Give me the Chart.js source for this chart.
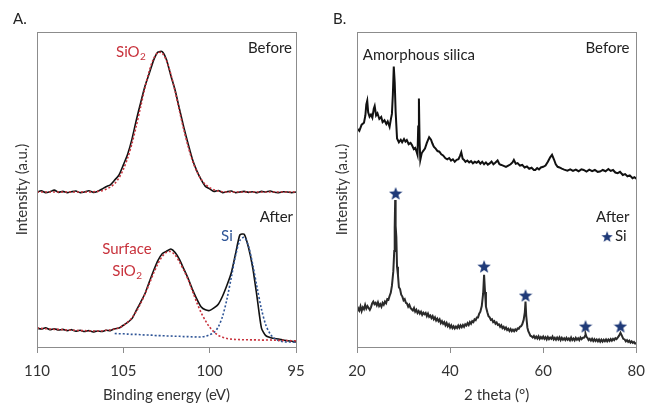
<!DOCTYPE html>
<html>
<head>
<meta charset="utf-8">
<script src="https://cdn.jsdelivr.net/npm/chart.js@4"></script>
<style>
  body { margin: 0; background: #ffffff; }
  #wrap { position: relative; width: 654px; height: 404px; }
  canvas { position: absolute; top: 0; }
  #chartA { left: 0; }
  #chartB { left: 320px; }
</style>
</head>
<body>
<div id="wrap">
  <canvas id="chartA" width="320" height="404"></canvas>
  <canvas id="chartB" width="334" height="404"></canvas>
</div>
<script>
// XPS Si 2p (panel A) - binding energy, eV
const energies = [
  110, 109.75, 109.5, 109.25, 109, 108.75, 108.5, 108.25, 108, 107.75,
  107.5, 107.25, 107, 106.75, 106.5, 106.25, 106, 105.75, 105.5, 105.25,
  105, 104.75, 104.5, 104.25, 104, 103.75, 103.5, 103.25, 103, 102.75,
  102.5, 102.25, 102, 101.75, 101.5, 101.25, 101, 100.75, 100.5, 100.25,
  100, 99.75, 99.5, 99.25, 99, 98.75, 98.5, 98.25, 98, 97.75,
  97.5, 97.25, 97, 96.75, 96.5, 96.25, 96, 95.75, 95.5, 95.25,
  95
];
const beforeMeasured = [
  49.2, 49.6, 49.0, 49.3, 49.8, 49.1, 49.4, 49.0, 49.3, 49.5,
  49.0, 49.2, 49.6, 49.1, 49.4, 50.1, 50.9, 51.5, 53.0, 54.6,
  57.8, 61.2, 66.0, 72.0, 77.5, 82.8, 86.8, 91.0, 93.6, 93.8,
  91.2, 86.2, 81.5, 75.6, 69.8, 64.5, 59.6, 56.0, 53.2, 51.0,
  50.2, 49.4, 49.7, 49.0, 49.3, 49.5, 49.0, 49.2, 49.4, 49.1,
  49.3, 49.0, 49.4, 49.2, 49.5, 49.1, 49.0, 49.3, 49.2, 49.0,
  49.2
];
const beforeFit = [
  49.2, 49.2, 49.2, 49.2, 49.2, 49.2, 49.2, 49.2, 49.2, 49.2,
  49.2, 49.2, 49.2, 49.3, 49.4, 49.6, 50.1, 50.8, 51.9, 53.7,
  56.4, 60.0, 64.6, 70.2, 76.2, 82.2, 87.6, 91.5, 93.5, 93.3,
  90.9, 86.6, 81.1, 75.0, 69.0, 63.7, 59.2, 55.8, 53.3, 51.6,
  50.6, 49.9, 49.5, 49.3, 49.2, 49.2, 49.2, 49.2, 49.2, 49.2,
  49.2, 49.2, 49.2, 49.2, 49.2, 49.2, 49.2, 49.2, 49.2, 49.2,
  49.2
];
const afterMeasured = [
  6.0, 5.7, 6.1, 5.5, 5.8, 5.4, 5.6, 5.2, 5.5, 5.0,
  5.3, 4.9, 5.2, 4.8, 5.1, 4.9, 5.3, 5.2, 5.8, 6.0,
  6.9, 7.8, 9.0, 11.6, 14.2, 16.9, 20.6, 24.2, 27.4, 29.6,
  30.4, 31.1, 30.0, 27.8, 24.8, 21.8, 18.3, 15.3, 12.8, 11.8,
  11.6, 12.4, 13.6, 16.2, 19.6, 23.5, 29.6, 35.6, 35.8, 31.6,
  25.0, 15.6, 6.0, 3.6, 3.0, 2.7, 2.5, 2.2, 2.0, 1.8,
  1.6
];
const afterSiO2Fit = [
  6.0, 5.9, 5.8, 5.7, 5.6, 5.6, 5.5, 5.4, 5.3, 5.3,
  5.2, 5.2, 5.1, 5.1, 5.1, 5.1, 5.3, 5.4, 5.7, 6.1,
  6.8, 7.9, 9.3, 11.3, 13.8, 16.8, 20.0, 23.4, 26.4, 28.7,
  30.1, 30.3, 29.2, 27.0, 24.4, 21.5, 17.8, 14.2, 11.0, 8.4,
  6.3, 4.8, 3.7, 3.1, 2.7, 2.5, 2.4, 2.35, 2.3, 2.3,
  2.25, 2.25, 2.2, 2.2, 2.2, 2.15, 2.1, 2.1, 2.05, 2.0,
  2.0
];
const afterSiFit = [
  null, null, null, null, null, null, null, null, null, null,
  null, null, null, null, null, null, null, null, 4.3, 4.2,
  4.2, 4.1, 4.0, 4.0, 3.9, 3.8, 3.8, 3.7, 3.6, 3.6,
  3.5, 3.5, 3.4, 3.4, 3.3, 3.3, 3.2, 3.2, 3.2, 3.4,
  3.9, 4.6, 6.4, 9.8, 15.2, 22.0, 29.0, 33.8, 34.8, 32.0,
  26.0, 18.8, 12.0, 7.0, 4.2, 2.7, 2.0, 1.7, 1.6, 1.6,
  1.5
];
const energyTicks = [110, 105, 100, 95];

// XRD (panel B) - [2 theta, intensity]
const xrdBefore = [
  [20, 69.4], [20.5, 68.6], [21, 70.6], [21.5, 71.2], [21.8, 73.5], [22.0, 77.0], [22.2, 78.2], [22.4, 74.5],
  [22.7, 73.1], [23.0, 73.8], [23.3, 72.8], [23.6, 75.6], [23.8, 76.5], [24.1, 73.5], [24.4, 74.2], [24.8, 72.4],
  [25.2, 73.0], [25.5, 71.4], [25.9, 72.0], [26.3, 70.8], [26.6, 71.6], [27.0, 69.9], [27.3, 72.5], [27.5, 74.0],
  [27.7, 80.0], [27.9, 89.0], [28.1, 84.0], [28.3, 74.7], [28.6, 66.2], [29.0, 65.0], [29.4, 65.8], [29.7, 65.0],
  [30.1, 66.0], [30.4, 65.2], [30.7, 65.7], [31.1, 64.4], [31.5, 64.8], [31.8, 64.1], [32.2, 62.8], [32.5, 63.2],
  [32.8, 62.0], [33.0, 61.0], [33.15, 70.0], [33.3, 78.9], [33.45, 65.0], [33.6, 59.4], [33.9, 61.5], [34.2, 62.2],
  [34.6, 63.0], [35.0, 64.8], [35.5, 66.6], [35.9, 65.8], [36.2, 64.6], [36.5, 63.6], [36.9, 63.0], [37.3, 62.2],
  [37.7, 62.0], [38.1, 61.2], [38.5, 60.8], [39.0, 59.9], [39.4, 59.6], [39.8, 60.0], [40.2, 59.2], [40.6, 59.6],
  [41.0, 58.8], [41.4, 59.4], [41.8, 59.6], [42.1, 60.6], [42.4, 61.8], [42.7, 59.8], [43.0, 59.4], [43.3, 58.8],
  [43.7, 59.2], [44.1, 58.6], [44.5, 59.0], [44.9, 58.3], [45.3, 58.8], [45.7, 58.5], [46.1, 59.0], [46.5, 58.2],
  [46.9, 58.8], [47.3, 58.0], [47.7, 58.6], [48.1, 57.9], [48.5, 58.3], [48.9, 58.9], [49.3, 58.0], [49.7, 58.5],
  [50.2, 59.2], [50.6, 58.0], [51.0, 57.8], [51.5, 57.5], [52.0, 57.2], [52.5, 57.6], [53.0, 58.0], [53.4, 58.6],
  [53.7, 59.4], [54.1, 58.2], [54.5, 58.4], [55.0, 57.6], [55.5, 57.8], [56.0, 57.0], [56.5, 57.3], [57.0, 56.6],
  [57.5, 56.9], [58.0, 56.2], [58.3, 56.2], [58.7, 56.8], [59.1, 56.4], [59.5, 57.0], [60.0, 57.2], [60.5, 57.6],
  [61.0, 58.8], [61.5, 60.2], [61.9, 61.0], [62.3, 59.6], [62.7, 58.0], [63.1, 57.2], [63.5, 57.0], [64.0, 56.6],
  [64.5, 56.3], [65.2, 56.0], [65.8, 56.4], [66.4, 55.9], [67.0, 56.3], [67.6, 55.8], [68.2, 56.4], [68.7, 56.2],
  [69.3, 55.7], [69.9, 56.3], [70.5, 55.8], [71.1, 56.2], [71.7, 55.6], [72.2, 55.7], [72.8, 56.2], [73.4, 55.8],
  [74.0, 56.5], [74.5, 55.9], [75.0, 56.2], [75.5, 55.4], [76.0, 55.2], [76.5, 55.6], [77.1, 54.6], [77.6, 54.9],
  [78.1, 54.2], [78.6, 54.5], [79.2, 53.6], [79.6, 53.9], [80.0, 53.4]
];
const xrdAfter = [
  [20, 11.0], [20.25, 12.3], [20.5, 11.6], [20.75, 12.9], [21, 11.4], [21.25, 12.6], [21.5, 12.0], [21.75, 13.4],
  [22, 12.2], [22.25, 13.0], [22.5, 12.4], [22.75, 11.8], [23, 12.6], [23.25, 13.8], [23.5, 14.4], [23.75, 13.6],
  [24, 14.0], [24.25, 13.2], [24.5, 14.2], [24.75, 13.0], [25, 13.6], [25.25, 12.8], [25.5, 14.0], [25.75, 13.4],
  [26, 14.4], [26.25, 13.9], [26.5, 15.2], [26.75, 15.0], [27, 16.2], [27.25, 17.2], [27.5, 19.4], [27.8, 24.0],
  [28, 30.5], [28.1, 38.0], [28.2, 46.7], [28.3, 38.5], [28.45, 35.0], [28.6, 25.5], [28.8, 22.8], [29, 19.0],
  [29.25, 18.4], [29.5, 16.6], [29.75, 16.0], [30, 14.8], [30.25, 15.2], [30.5, 14.0], [30.75, 13.8], [31, 12.8],
  [31.25, 13.4], [31.5, 12.4], [31.75, 12.0], [32, 11.6], [32.25, 12.4], [32.5, 11.2], [32.75, 11.8], [33, 10.8],
  [33.25, 11.4], [33.5, 10.6], [33.75, 11.2], [34, 10.2], [34.25, 10.9], [34.5, 10.4], [34.75, 10.8], [35, 9.8],
  [35.25, 10.6], [35.5, 9.6], [35.75, 10.0], [36, 9.2], [36.25, 9.8], [36.5, 8.8], [36.75, 9.4], [37, 8.4],
  [37.25, 9.0], [37.5, 8.2], [37.75, 8.8], [38, 7.6], [38.25, 8.2], [38.5, 7.4], [38.75, 7.9], [39, 6.9],
  [39.25, 7.6], [39.5, 6.6], [39.75, 7.2], [40, 6.2], [40.25, 6.9], [40.5, 6.0], [40.75, 6.6], [41, 5.9],
  [41.25, 6.5], [41.5, 6.0], [41.75, 6.8], [42, 6.1], [42.25, 6.9], [42.5, 6.3], [42.75, 7.0], [43, 6.4],
  [43.25, 7.2], [43.5, 6.8], [43.75, 7.6], [44, 7.0], [44.25, 7.9], [44.5, 7.4], [44.75, 8.2], [45, 7.9],
  [45.25, 8.8], [45.5, 8.5], [45.75, 9.4], [46, 9.4], [46.25, 10.6], [46.5, 11.2], [46.8, 13.0], [47.1, 17.0],
  [47.3, 22.9], [47.5, 17.5], [47.7, 12.8], [48, 11.0], [48.25, 9.8], [48.5, 9.4], [48.75, 8.6], [49, 8.8],
  [49.25, 7.9], [49.5, 8.2], [49.75, 7.4], [50, 7.8], [50.25, 7.0], [50.5, 7.2], [50.75, 6.4], [51, 6.9],
  [51.25, 6.0], [51.5, 6.4], [51.75, 5.7], [52, 6.2], [52.25, 5.4], [52.5, 5.8], [52.75, 5.1], [53, 5.7],
  [53.25, 5.0], [53.5, 5.5], [53.75, 5.0], [54, 5.6], [54.25, 5.2], [54.5, 5.9], [54.75, 5.8], [55, 6.4],
  [55.25, 6.6], [55.5, 7.2], [55.8, 8.6], [56.05, 11.0], [56.2, 14.4], [56.35, 10.0], [56.6, 6.2], [56.8, 5.0],
  [57, 4.4], [57.25, 3.6], [57.5, 3.4], [57.75, 3.0], [58, 3.5], [58.25, 2.8], [58.5, 3.3], [58.75, 2.7],
  [59, 3.4], [59.25, 2.6], [59.5, 3.2], [59.75, 2.7], [60, 3.3], [60.25, 2.6], [60.5, 3.1], [60.75, 2.4],
  [61, 3.2], [61.25, 2.5], [61.5, 3.0], [61.75, 2.6], [62, 3.3], [62.25, 2.4], [62.5, 2.9], [62.75, 2.3],
  [63, 3.0], [63.25, 2.4], [63.5, 3.1], [63.75, 2.2], [64, 2.9], [64.25, 2.3], [64.5, 2.8], [64.75, 2.2],
  [65, 2.9], [65.25, 2.3], [65.5, 2.7], [65.75, 2.1], [66, 3.0], [66.25, 2.2], [66.5, 2.7], [66.75, 2.1],
  [67, 2.9], [67.25, 2.3], [67.5, 2.8], [67.75, 2.2], [68, 3.0], [68.25, 2.5], [68.5, 2.9], [68.75, 2.9],
  [69, 3.6], [69.1, 4.2], [69.3, 3.2], [69.5, 2.9], [69.75, 2.2], [70, 2.6], [70.25, 2.0], [70.5, 2.6],
  [70.75, 1.9], [71, 2.5], [71.25, 1.9], [71.5, 2.4], [71.75, 1.8], [72, 2.4], [72.25, 1.7], [72.5, 2.3],
  [72.75, 1.7], [73, 2.3], [73.25, 1.8], [73.5, 2.4], [73.75, 1.8], [74, 2.4], [74.25, 1.9], [74.5, 2.5],
  [74.75, 2.0], [75, 2.6], [75.25, 2.2], [75.5, 2.8], [75.75, 2.5], [76, 3.0], [76.3, 3.6], [76.6, 4.5],
  [76.9, 3.6], [77.2, 2.6], [77.5, 2.4], [77.75, 1.8], [78, 2.2], [78.25, 1.6], [78.5, 2.0], [78.75, 1.4],
  [79, 1.8], [79.25, 1.3], [79.5, 1.6], [79.75, 1.1], [80, 1.2]
];
const siPeakAngles = [28.3, 47.3, 56.2, 69.1, 76.6];
const siPeakMarks = [48.9, 25.7, 16.5, 6.7, 6.7];
const thetaTicks = [20, 40, 60, 80];

const RED = '#c8323c';
const BLUE = '#2f5597';
const NAVY = '#1f3a78';
const FONT = 'Lato, "Open Sans", sans-serif';

function makeStar(size, color) {
  const c = document.createElement('canvas');
  c.width = c.height = size;
  const g = c.getContext('2d');
  const r = size / 2, ri = r * 0.42;
  g.beginPath();
  for (let k = 0; k < 10; k++) {
    const rad = k % 2 ? ri : r;
    const a = -Math.PI / 2 + k * Math.PI / 5;
    g.lineTo(r + rad * Math.cos(a), r + 1 + rad * Math.sin(a));
  }
  g.closePath();
  g.fillStyle = color;
  g.fill();
  return c;
}
const starImg = makeStar(14, NAVY);
const starSmall = makeStar(12, NAVY);

// text labels (in data coordinates) + frame + panel letter
function labelPlugin(items, panel) {
  return {
    id: 'panelLabels',
    afterDatasetsDraw(chart) {
      const {ctx, chartArea: a, scales: {x, y}} = chart;
      ctx.save();
      ctx.strokeStyle = '#8c8c8c';
      ctx.lineWidth = 1;
      ctx.strokeRect(Math.round(a.left) + 0.5, Math.round(a.top) + 0.5,
        Math.round(a.right - a.left), Math.round(a.bottom - a.top));
      ctx.textBaseline = 'middle';
      ctx.textAlign = 'left';
      items.forEach(it => {
        const px = x.getPixelForValue(it.x);
        const py = y.getPixelForValue(it.y);
        if (it.star) {
          ctx.drawImage(starSmall, px - 6, py - 6);
          return;
        }
        ctx.font = '15px ' + FONT;
        const w1 = ctx.measureText(it.text).width;
        let w2 = 0;
        if (it.sub) {
          ctx.font = '10px ' + FONT;
          w2 = ctx.measureText(it.sub).width + 1;
        }
        let sx = px;
        if (it.align === 'right') sx = px - w1 - w2;
        if (it.align === 'center') sx = px - (w1 + w2) / 2;
        ctx.fillStyle = it.color || '#222222';
        ctx.font = '15px ' + FONT;
        ctx.fillText(it.text, sx, py);
        if (it.sub) {
          ctx.font = '10px ' + FONT;
          ctx.fillText(it.sub, sx + w1 + 0.5, py + 5);
        }
      });
      ctx.fillStyle = '#222222';
      ctx.font = '15px ' + FONT;
      ctx.fillText(panel, 13, 19);
      ctx.restore();
    }
  };
}

const labelsA = [
  {text: 'SiO', sub: '2', x: 105.42, y: 93.6, color: RED},
  {text: 'Before', x: 95.23, y: 94.9, align: 'right'},
  {text: 'After', x: 95.17, y: 41.3, align: 'right'},
  {text: 'Si', x: 99.34, y: 35.2, color: BLUE},
  {text: 'Surface', x: 104.79, y: 31.0, align: 'center', color: RED},
  {text: 'SiO', sub: '2', x: 104.76, y: 24.1, align: 'center', color: RED}
];
const labelsB = [
  {text: 'Amorphous silica', x: 21.25, y: 92.7},
  {text: 'Before', x: 78.54, y: 94.9, align: 'right'},
  {text: 'After', x: 78.54, y: 41.3, align: 'right'},
  {star: true, x: 73.73, y: 35.2},
  {text: 'Si', x: 75.4, y: 35.2}
];

function axisOptions(xTitle, xMin, xMax, ticksList, reverse) {
  return {
    x: {
      type: 'linear', min: xMin, max: xMax, reverse: reverse,
      afterBuildTicks: s => { s.ticks = ticksList.map(v => ({value: v})); },
      afterFit: s => { s.height = 57; },
      grid: { drawOnChartArea: false, drawTicks: true, tickLength: 6, color: '#8c8c8c' },
      border: { display: false },
      ticks: { color: '#333333', font: { family: FONT, size: 15 }, padding: 9, maxRotation: 0, autoSkip: false },
      title: { display: true, text: xTitle, color: '#333333', font: { family: FONT, size: 15 }, padding: { top: 0, bottom: 0 } }
    },
    y: {
      type: 'linear', min: 0, max: 100,
      afterFit: s => { s.width = 37; },
      grid: { display: false },
      border: { display: false },
      ticks: { display: false },
      title: { display: true, text: 'Intensity (a.u.)', color: '#333333', font: { family: FONT, size: 15 }, padding: { top: 13, bottom: 0 } }
    }
  };
}

const pairs = (xs, ys) => xs.map((v, i) => ({x: v, y: ys[i]}));

new Chart(document.getElementById('chartA'), {
  type: 'line',
  data: {
    datasets: [
      { data: pairs(energies, beforeMeasured), borderColor: '#111111', borderWidth: 1.6, order: 2, tension: 0.2 },
      { data: pairs(energies, beforeFit), borderColor: RED, borderWidth: 1.6, borderDash: [2, 2], order: 1, tension: 0.3 },
      { data: pairs(energies, afterMeasured), borderColor: '#111111', borderWidth: 1.6, order: 2, tension: 0.2 },
      { data: pairs(energies, afterSiO2Fit), borderColor: RED, borderWidth: 1.6, borderDash: [2, 2], order: 1, tension: 0.3 },
      { data: pairs(energies, afterSiFit), borderColor: BLUE, borderWidth: 1.6, borderDash: [2, 2], order: 1, tension: 0.3 }
    ]
  },
  options: {
    responsive: false,
    animation: false,
    layout: { padding: { top: 32, right: 24, left: 0, bottom: 0 } },
    elements: { point: { radius: 0 } },
    scales: axisOptions('Binding energy (eV)', 95, 110, energyTicks, true),
    plugins: { legend: { display: false }, tooltip: { enabled: false } }
  },
  plugins: [labelPlugin(labelsA, 'A.')]
});

new Chart(document.getElementById('chartB'), {
  type: 'line',
  data: {
    datasets: [
      { data: xrdBefore.map(p => ({x: p[0], y: p[1]})), borderColor: '#111111', borderWidth: 2, order: 2 },
      { data: xrdAfter.map(p => ({x: p[0], y: p[1]})), borderColor: '#2a2a2a', borderWidth: 2, order: 2 },
      { data: pairs(siPeakAngles, siPeakMarks), showLine: false, pointStyle: starImg, pointRadius: 7, order: 0 }
    ]
  },
  options: {
    responsive: false,
    animation: false,
    layout: { padding: { top: 32, right: 10, left: 0, bottom: 0 } },
    elements: { point: { radius: 0 } },
    scales: axisOptions('2 theta (°)', 20, 80, thetaTicks, false),
    plugins: { legend: { display: false }, tooltip: { enabled: false } }
  },
  plugins: [labelPlugin(labelsB, 'B.')]
});
</script>
</body>
</html>
